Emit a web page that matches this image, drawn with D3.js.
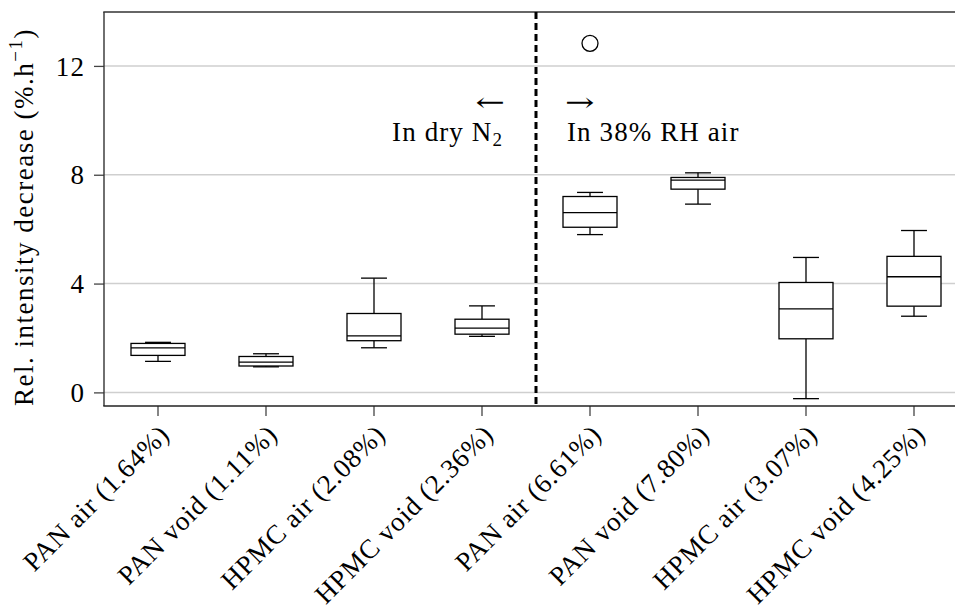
<!DOCTYPE html>
<html>
<head>
<meta charset="utf-8">
<script src="https://cdn.jsdelivr.net/npm/d3@7"></script>
<style>
  html, body { margin: 0; padding: 0; background: #fff; }
  svg { display: block; }
  text { font-family: "Liberation Serif", "Times New Roman", serif; fill: #000; }
  .arrow { font-family: "DejaVu Serif", serif; }
</style>
</head>
<body>
<svg id="chart" width="955" height="611"></svg>
<script>
// Sample groups: film type, atmosphere inside the cell
const groups = ["PAN air", "PAN void", "HPMC air", "HPMC void",
                "PAN air", "PAN void", "HPMC air", "HPMC void"];
// Box statistics (% per hour)
const medians      = [1.64, 1.11, 2.08, 2.36, 6.61, 7.80, 3.07, 4.25];
const q1           = [1.36, 0.97, 1.90, 2.14, 6.07, 7.47, 1.97, 3.17];
const q3           = [1.80, 1.32, 2.90, 2.69, 7.20, 7.90, 4.04, 5.00];
const whiskerLow   = [1.14, 0.94, 1.64, 2.06, 5.80, 6.92, -0.23, 2.80];
const whiskerHigh  = [1.84, 1.42, 4.20, 3.18, 7.35, 8.07, 4.96, 5.95];
const outliers     = [[], [], [], [], [12.83], [], [], []];
// First group measured in humid air
const humidStart = 4;
const yTicks = [0, 4, 8, 12];
const yDomain = [-0.5, 14];

const categories = groups.map((g, i) => `${g} (${medians[i].toFixed(2)}%)`);
const rows = categories.map((c, i) => ({
  key: i, label: c, med: medians[i], q1: q1[i], q3: q3[i],
  lo: whiskerLow[i], hi: whiskerHigh[i], out: outliers[i]
}));

const svg = d3.select("#chart");
const plotLeft = 104, plotTop = 12, plotBottom = 406;
const step = 108;
const fs = 27;         // label font size
const ls = "1.1px";    // letter spacing

const x = d3.scaleBand()
  .domain(rows.map(d => d.key))
  .range([plotLeft, plotLeft + step * rows.length])
  .padding(0);
const y = d3.scaleLinear().domain(yDomain).range([plotBottom, plotTop - 0.5]);

const cx = d => x(d.key) + x.bandwidth() / 2;
const boxW = x.bandwidth() * 0.5;
const capW = x.bandwidth() * 0.24;

// horizontal grid
svg.append("g")
  .selectAll("line")
  .data(yTicks)
  .join("line")
  .attr("x1", plotLeft).attr("x2", 955)
  .attr("y1", d => y(d)).attr("y2", d => y(d))
  .attr("stroke", "#cfcfcf").attr("stroke-width", 1.5);

// axes
const yAxis = d3.axisLeft(y).tickValues(yTicks).tickSize(10).tickPadding(9).tickFormat(d3.format("d"));
const gy = svg.append("g").attr("transform", `translate(${plotLeft},0)`).call(yAxis);
gy.select(".domain").remove();
gy.selectAll(".tick line").attr("stroke", "#444").attr("stroke-width", 1.3);
gy.selectAll(".tick text").attr("font-size", fs).attr("letter-spacing", ls).attr("dy", "0.34em");

const xAxis = d3.axisBottom(x).tickSize(10).tickSizeOuter(0).tickFormat(i => categories[i]);
const gx = svg.append("g").attr("transform", `translate(0,${plotBottom})`).call(xAxis);
gx.select(".domain").remove();
gx.selectAll(".tick line").attr("stroke", "#444").attr("stroke-width", 1.3);
gx.selectAll(".tick text")
  .attr("font-size", fs)
  .attr("letter-spacing", "0.8px")
  .attr("text-anchor", "end")
  .attr("dy", null)
  .attr("y", 0)
  .attr("transform", "translate(13,30) rotate(-45)");

// frame: left, top, bottom
svg.append("line").attr("x1", plotLeft).attr("x2", plotLeft).attr("y1", plotTop).attr("y2", plotBottom)
  .attr("stroke", "#333").attr("stroke-width", 1.4);
svg.append("line").attr("x1", plotLeft - 0.7).attr("x2", 955).attr("y1", plotTop).attr("y2", plotTop)
  .attr("stroke", "#333").attr("stroke-width", 1.4);
svg.append("line").attr("x1", plotLeft - 0.7).attr("x2", 955).attr("y1", plotBottom).attr("y2", plotBottom)
  .attr("stroke", "#222").attr("stroke-width", 1.4);

// boxes
const gb = svg.append("g").attr("stroke", "#000").attr("stroke-width", 1.3).attr("fill", "none");
const box = gb.selectAll("g").data(rows).join("g");
box.append("line").attr("x1", cx).attr("x2", cx).attr("y1", d => y(d.hi)).attr("y2", d => y(d.q3));
box.append("line").attr("x1", cx).attr("x2", cx).attr("y1", d => y(d.q1)).attr("y2", d => y(d.lo));
box.append("line").attr("x1", d => cx(d) - capW / 2).attr("x2", d => cx(d) + capW / 2)
  .attr("y1", d => y(d.hi)).attr("y2", d => y(d.hi));
box.append("line").attr("x1", d => cx(d) - capW / 2).attr("x2", d => cx(d) + capW / 2)
  .attr("y1", d => y(d.lo)).attr("y2", d => y(d.lo));
box.append("rect")
  .attr("x", d => cx(d) - boxW / 2).attr("width", boxW)
  .attr("y", d => y(d.q3)).attr("height", d => y(d.q1) - y(d.q3))
  .attr("fill", "#fff");
box.append("line").attr("x1", d => cx(d) - boxW / 2).attr("x2", d => cx(d) + boxW / 2)
  .attr("y1", d => y(d.med)).attr("y2", d => y(d.med));
box.selectAll("circle").data(d => d.out.map(v => ({ v, c: cx(d) }))).join("circle")
  .attr("cx", o => o.c).attr("cy", o => y(o.v)).attr("r", 8);

// separator between dry nitrogen and humid air series
const sepX = x(humidStart);
svg.append("line").attr("x1", sepX).attr("x2", sepX).attr("y1", plotTop).attr("y2", plotBottom)
  .attr("stroke", "#000").attr("stroke-width", 3).attr("stroke-dasharray", "7,4");

// condition annotations (arrows stretched horizontally)
svg.append("text").attr("class", "arrow")
  .attr("transform", `translate(${sepX - 31},111) scale(1.35,1)`)
  .attr("text-anchor", "end").attr("font-size", 26).text("←");
const dry = svg.append("text").attr("x", sepX - 33).attr("y", 141).attr("text-anchor", "end")
  .attr("font-size", fs).attr("letter-spacing", ls);
dry.append("tspan").text("In dry N");
dry.append("tspan").attr("font-size", 19).attr("dy", 5).text("2");
svg.append("text").attr("class", "arrow")
  .attr("transform", `translate(${sepX + 29},111) scale(1.35,1)`)
  .attr("font-size", 26).text("→");
svg.append("text").attr("x", sepX + 31).attr("y", 141).attr("font-size", fs).attr("letter-spacing", ls)
  .text("In 38% RH air");

// y axis title
const yl = svg.append("text")
  .attr("transform", `translate(33,${(plotTop + plotBottom) / 2 + 8}) rotate(-90)`)
  .attr("text-anchor", "middle").attr("font-size", fs).attr("letter-spacing", "1.5px");
yl.append("tspan").text("Rel. intensity decrease (%.h");
yl.append("tspan").attr("font-size", 19).attr("dy", -11).text("−1");
yl.append("tspan").attr("dy", 11).text(")");
</script>
</body>
</html>
